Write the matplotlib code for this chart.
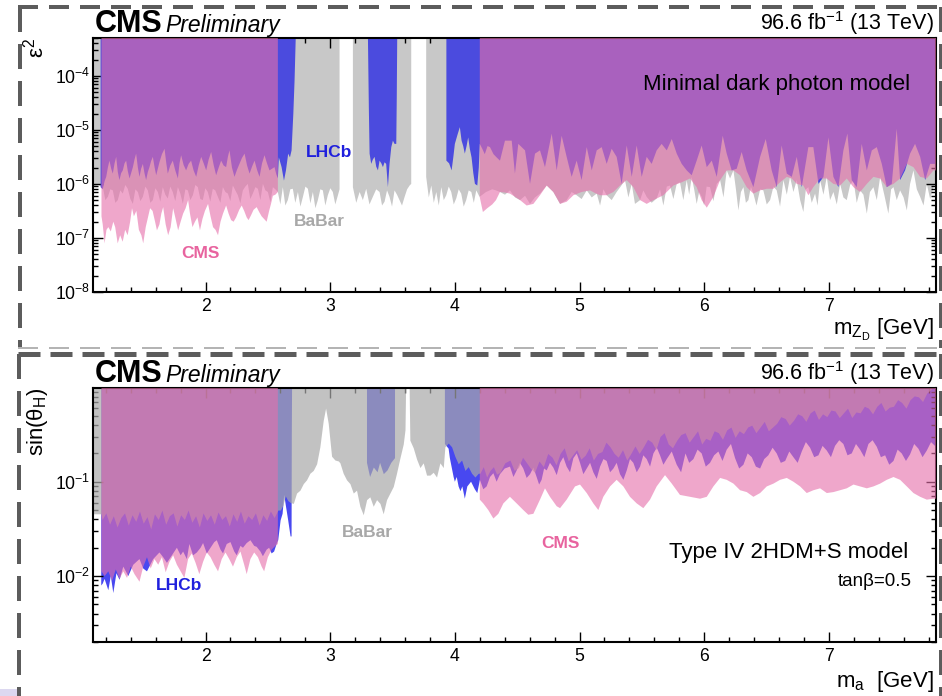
import numpy as np
import matplotlib
matplotlib.use("Agg")
import matplotlib.pyplot as plt
from matplotlib.lines import Line2D
from matplotlib.patches import Rectangle
from matplotlib.ticker import MultipleLocator, LogLocator, NullFormatter

plt.rcParams.update({
    "font.family": ["Liberation Sans", "DejaVu Sans"],
    "mathtext.fontset": "custom",
    "mathtext.rm": "Liberation Sans",
    "mathtext.it": "Liberation Sans:italic",
    "mathtext.bf": "Liberation Sans:bold",
    "lines.scale_dashes": False,
})

# ---------------------------------------------------------------------------
# Exclusion limits, given as (mass [GeV], log10 of the limit); None splits
# a curve into separate mass windows.
# ---------------------------------------------------------------------------

# Minimal dark photon model: limits on epsilon^2
top_babar = [
    (1.097, -6.05), (1.140, -6.02), (1.176, -6.06), (1.196, -6.30), (1.216, -6.24), (1.236, -6.10),
    (1.256, -6.12), (1.276, -6.35), (1.296, -6.30), (1.316, -6.12), (1.336, -6.18), (1.356, -6.02),
    (1.376, -6.09), (1.397, -6.28), (1.417, -6.37), (1.437, -6.10), (1.457, -6.15), (1.477, -6.32),
    (1.497, -6.24), (1.517, -6.05), (1.537, -6.12), (1.557, -6.35), (1.577, -6.30), (1.597, -6.08),
    (1.617, -6.15), (1.637, -6.33), (1.657, -6.06), (1.677, -6.20), (1.697, -6.27), (1.717, -6.05),
    (1.737, -6.15), (1.757, -6.32), (1.778, -6.06), (1.798, -6.18), (1.818, -6.37), (1.838, -6.10),
    (1.858, -6.12), (1.878, -6.30), (1.898, -6.21), (1.918, -6.02), (1.938, -6.06), (1.958, -6.28),
    (1.978, -6.30), (1.998, -6.08), (2.018, -6.15), (2.038, -6.33), (2.058, -6.09), (2.078, -6.12),
    (2.099, -6.24), (2.119, -6.35), (2.139, -6.06), (2.159, -6.15), (2.179, -6.18), (2.199, -6.32),
    (2.219, -6.03), (2.239, -6.12), (2.259, -6.21), (2.279, -6.36), (2.299, -6.12), (2.319, -6.05),
    (2.339, -6.00), (2.359, -6.28), (2.379, -6.18), (2.400, -6.06), (2.420, -6.09), (2.440, -6.30),
    (2.460, -6.00), (2.480, -6.12), (2.500, -6.15), (2.520, -6.34), (2.540, -6.06), (2.560, -6.10),
    (2.580, -6.15), (2.600, -6.38), (2.620, -6.06), (2.640, -6.40), (2.660, -6.30), (2.680, -6.10),
    (2.700, -6.09), (2.720, -6.35), (2.741, -6.15), (2.761, -6.42), (2.781, -6.24), (2.801, -6.05),
    (2.821, -6.09), (2.841, -6.36), (2.861, -6.15), (2.881, -6.45), (2.901, -6.30), (2.921, -6.10),
    (2.941, -6.12), (2.961, -6.40), (2.981, -6.21), (3.001, -6.08), (3.021, -6.15), (3.041, -6.38),
    (3.062, -6.21), (3.075, -6.10),
    None,
    (3.182, -6.06), (3.209, -6.35), (3.236, -6.15), (3.262, -6.30), (3.289, -6.09), (3.315, -6.38),
    (3.342, -6.24), (3.369, -6.10), (3.396, -6.15), (3.416, -6.40), (3.436, -6.33), (3.456, -6.12),
    (3.476, -6.24), (3.496, -6.42), (3.516, -6.12), (3.536, -6.20), (3.556, -6.30), (3.576, -6.40),
    (3.597, -6.24), (3.617, -6.10), (3.637, -6.03), (3.650, -6.00),
    None,
    (3.770, -5.87), (3.791, -6.25), (3.811, -6.03), (3.831, -6.35), (3.851, -6.15), (3.871, -6.40),
    (3.891, -6.06), (3.911, -6.30), (3.931, -6.21), (3.951, -6.05), (3.971, -6.15), (3.991, -6.38),
    (4.011, -6.27), (4.031, -6.10), (4.051, -6.18), (4.071, -6.42), (4.091, -6.30), (4.111, -6.12),
    (4.132, -6.15), (4.152, -6.35), (4.172, -6.12), (4.198, -6.24), (4.250, -6.15), (4.300, -6.10),
    (4.330, -6.12), (4.362, -6.15), (4.402, -6.20), (4.442, -6.12), (4.483, -6.25), (4.523, -6.30),
    (4.563, -6.22), (4.603, -6.37), (4.643, -6.25), (4.683, -6.18), (4.737, -6.03), (4.790, -6.15),
    (4.844, -6.37), (4.897, -6.30), (4.937, -6.15), (4.977, -6.21), (5.017, -6.28), (5.058, -6.12),
    (5.098, -6.25), (5.138, -6.18), (5.165, -6.40), (5.192, -6.10), (5.218, -6.21), (5.258, -6.30),
    (5.298, -6.15), (5.330, -6.05), (5.365, -5.93), (5.392, -6.25), (5.419, -6.00), (5.445, -6.37),
    (5.486, -6.30), (5.512, -6.12), (5.539, -6.24), (5.579, -6.35), (5.619, -6.27), (5.646, -6.10),
    (5.673, -6.40), (5.700, -6.05), (5.726, -6.03), (5.753, -6.28), (5.780, -6.00), (5.806, -5.97),
    (5.833, -6.30), (5.860, -5.93), (5.880, -6.20), (5.900, -5.87), (5.920, -6.10), (5.940, -6.37),
    (5.960, -6.15), (5.980, -6.24), (6.000, -6.40), (6.020, -6.05), (6.047, -6.06), (6.074, -6.32),
    (6.101, -6.00), (6.128, -5.93), (6.155, -6.25), (6.181, -5.75), (6.208, -5.90), (6.235, -5.75),
    (6.255, -6.10), (6.275, -6.49), (6.295, -6.15), (6.315, -6.06), (6.335, -6.35), (6.355, -6.30),
    (6.375, -6.05), (6.395, -6.18), (6.420, -6.40), (6.449, -6.10), (6.475, -6.12), (6.502, -6.38),
    (6.529, -6.30), (6.556, -6.05), (6.582, -6.12), (6.609, -6.42), (6.636, -5.93), (6.663, -6.20),
    (6.689, -5.87), (6.716, -6.15), (6.743, -5.93), (6.770, -6.30), (6.796, -6.52), (6.816, -6.10),
    (6.836, -6.06), (6.863, -6.35), (6.890, -6.18), (6.910, -6.40), (6.930, -5.93), (6.957, -6.20),
    (6.984, -5.87), (7.010, -6.30), (7.037, -6.15), (7.064, -6.38), (7.091, -6.00), (7.117, -6.25),
    (7.144, -6.30), (7.171, -6.02), (7.198, -5.93), (7.224, -6.35), (7.251, -6.12), (7.278, -6.20),
    (7.305, -6.55), (7.330, -6.15), (7.358, -6.06), (7.385, -6.30), (7.412, -5.87), (7.445, -6.20),
    (7.478, -6.55), (7.500, -6.10), (7.519, -6.06), (7.545, -6.30), (7.572, -6.12), (7.600, -6.25),
    (7.626, -6.49), (7.652, -6.00), (7.679, -5.75), (7.706, -6.10), (7.733, -6.24), (7.760, -6.40),
    (7.786, -6.00), (7.813, -6.28), (7.840, -6.06), (7.860, -6.00),
]

top_lhcb = [
    (1.158, -6.06), (1.175, -6.10), (1.190, -5.95), (1.203, -5.87), (1.216, -5.70), (1.229, -5.57),
    (1.243, -5.72), (1.256, -5.81), (1.270, -5.62), (1.283, -5.50), (1.296, -5.78), (1.309, -5.93),
    (1.323, -5.80), (1.336, -5.75), (1.350, -5.62), (1.363, -5.57), (1.376, -5.76), (1.390, -5.90),
    (1.403, -5.80), (1.417, -5.69), (1.430, -5.55), (1.443, -5.44), (1.457, -5.70), (1.470, -5.87),
    (1.483, -5.72), (1.497, -5.63), (1.510, -5.80), (1.523, -5.93), (1.537, -5.78), (1.550, -5.69),
    (1.563, -5.58), (1.577, -5.50), (1.590, -5.68), (1.604, -5.84), (1.617, -5.72), (1.630, -5.60),
    (1.650, -5.45), (1.671, -5.35), (1.684, -5.60), (1.697, -5.81), (1.717, -5.66), (1.737, -5.57),
    (1.757, -5.75), (1.778, -5.90), (1.791, -5.62), (1.804, -5.47), (1.824, -5.65), (1.844, -5.75),
    (1.864, -5.63), (1.884, -5.57), (1.904, -5.75), (1.925, -5.87), (1.945, -5.66), (1.965, -5.50),
    (1.985, -5.62), (2.005, -5.75), (2.025, -5.55), (2.045, -5.41), (2.065, -5.65), (2.085, -5.84),
    (2.105, -5.70), (2.125, -5.57), (2.145, -5.66), (2.165, -5.69), (2.179, -5.50), (2.192, -5.38),
    (2.212, -5.70), (2.232, -5.87), (2.252, -5.74), (2.272, -5.63), (2.292, -5.52), (2.313, -5.44),
    (2.333, -5.66), (2.353, -5.81), (2.373, -5.68), (2.393, -5.57), (2.413, -5.74), (2.433, -5.87),
    (2.453, -5.62), (2.473, -5.47), (2.493, -5.62), (2.513, -5.75), (2.533, -5.72), (2.553, -5.69),
    (2.567, -5.82), (2.580, -5.90), (2.588, -5.51), (2.610, -5.69), (2.629, -5.94), (2.645, -5.75),
    (2.663, -5.44), (2.677, -5.51), (2.690, -5.38), (2.704, -4.71), (2.714, -4.09), (2.725, -3.17),
    None,
    (3.302, -3.17), (3.310, -4.60), (3.316, -5.44), (3.329, -5.63), (3.342, -5.55), (3.356, -5.50),
    (3.369, -5.68), (3.383, -5.75), (3.396, -5.57), (3.410, -5.62), (3.423, -5.69), (3.436, -5.60),
    (3.449, -5.63), (3.463, -6.06), (3.476, -5.63), (3.490, -5.32), (3.503, -5.20), (3.516, -5.26),
    (3.530, -5.26), (3.534, -4.40), (3.538, -3.17),
    None,
    (3.932, -5.57), (3.954, -5.62), (3.974, -5.75), (3.988, -5.50), (4.000, -5.26), (4.020, -5.10),
    (4.040, -4.95), (4.054, -5.20), (4.067, -5.30), (4.080, -5.44), (4.094, -5.30), (4.107, -5.14),
    (4.120, -5.35), (4.134, -5.51), (4.148, -5.80), (4.161, -6.00), (4.180, -6.03), (4.192, -5.70),
    (4.200, -5.26), (4.220, -5.35), (4.240, -5.45), (4.262, -5.30), (4.282, -5.32), (4.310, -5.45),
    (4.335, -5.51), (4.362, -5.57), (4.402, -5.20), (4.456, -5.20), (4.482, -5.81), (4.509, -5.26),
    (4.563, -5.38), (4.603, -6.00), (4.643, -5.44), (4.683, -5.38), (4.723, -5.69), (4.777, -5.07),
    (4.817, -5.75), (4.857, -5.11), (4.897, -5.50), (4.937, -5.87), (4.977, -5.57), (5.017, -5.93),
    (5.058, -5.32), (5.098, -5.75), (5.138, -5.38), (5.178, -5.32), (5.218, -5.63), (5.258, -5.35),
    (5.298, -5.50), (5.338, -6.00), (5.379, -5.29), (5.419, -5.87), (5.459, -5.29), (5.499, -5.87),
    (5.539, -5.50), (5.579, -5.63), (5.619, -5.38), (5.659, -5.26), (5.700, -5.38), (5.740, -5.17),
    (5.780, -5.44), (5.820, -5.63), (5.860, -5.75), (5.900, -5.84), (5.940, -5.57), (5.980, -5.29),
    (6.021, -5.69), (6.061, -5.57), (6.101, -5.87), (6.149, -5.11), (6.181, -5.44), (6.221, -5.75),
    (6.261, -5.72), (6.301, -5.41), (6.341, -5.75), (6.395, -6.06), (6.449, -5.50), (6.494, -5.17),
    (6.542, -5.75), (6.582, -6.06), (6.622, -5.29), (6.663, -5.81), (6.703, -5.87), (6.743, -5.50),
    (6.783, -6.06), (6.836, -5.32), (6.876, -5.32), (6.917, -6.00), (6.957, -5.87), (6.997, -5.14),
    (7.037, -5.87), (7.077, -6.06), (7.117, -5.38), (7.149, -5.07), (7.184, -5.93), (7.224, -6.06),
    (7.264, -5.26), (7.305, -5.75), (7.345, -5.38), (7.385, -5.32), (7.425, -5.63), (7.465, -6.06),
    (7.505, -6.00), (7.545, -4.98), (7.572, -5.93), (7.612, -5.75), (7.652, -5.44), (7.692, -5.26),
    (7.733, -5.50), (7.773, -5.93), (7.813, -5.63), (7.860, -5.63),
]

top_cms = [
    (1.165, -6.60), (1.175, -6.75), (1.190, -7.10), (1.205, -6.85), (1.220, -6.80), (1.240, -6.88),
    (1.260, -6.70), (1.275, -6.80), (1.295, -7.10), (1.315, -6.95), (1.335, -7.07), (1.355, -6.85),
    (1.375, -6.95), (1.395, -6.70), (1.410, -6.45), (1.425, -6.60), (1.445, -6.50), (1.465, -6.85),
    (1.485, -6.95), (1.500, -7.10), (1.520, -6.80), (1.540, -6.60), (1.555, -6.45), (1.575, -6.50),
    (1.595, -6.70), (1.610, -6.86), (1.630, -6.75), (1.645, -6.55), (1.660, -6.43), (1.680, -6.75),
    (1.700, -6.95), (1.720, -6.80), (1.740, -6.45), (1.760, -6.65), (1.780, -6.86), (1.800, -6.70),
    (1.820, -6.55), (1.840, -6.45), (1.860, -6.30), (1.875, -6.55), (1.895, -6.80), (1.915, -6.70),
    (1.935, -6.62), (1.955, -6.86), (1.975, -6.65), (1.995, -6.50), (2.020, -6.37), (2.040, -6.60),
    (2.060, -6.80), (2.080, -6.85), (2.100, -6.95), (2.120, -6.70), (2.140, -6.55), (2.165, -6.40),
    (2.185, -6.55), (2.205, -6.67), (2.225, -6.70), (2.245, -6.62), (2.270, -6.48), (2.290, -6.40),
    (2.310, -6.50), (2.330, -6.62), (2.345, -6.67), (2.365, -6.58), (2.385, -6.48), (2.410, -6.43),
    (2.430, -6.52), (2.450, -6.60), (2.470, -6.65), (2.490, -6.70), (2.510, -6.50), (2.525, -6.37),
    (2.540, -6.22), (2.560, -6.20), (2.580, -6.15),
    None,
    (4.200, -6.25), (4.225, -6.52), (4.260, -6.45), (4.300, -6.38), (4.330, -6.30), (4.362, -6.15),
    (4.402, -6.16), (4.442, -6.18), (4.483, -6.24), (4.523, -6.30), (4.576, -6.40), (4.630, -6.37),
    (4.683, -6.21), (4.737, -6.03), (4.790, -6.15), (4.844, -6.37), (4.897, -6.33), (4.951, -6.21),
    (5.017, -6.15), (5.084, -6.12), (5.125, -6.17), (5.165, -6.21), (5.218, -6.21), (5.272, -6.15),
    (5.325, -6.03), (5.379, -5.93), (5.432, -6.06), (5.486, -6.30), (5.539, -6.37), (5.593, -6.30),
    (5.673, -6.21), (5.753, -6.03), (5.820, -5.97), (5.887, -5.90), (5.940, -6.06), (5.980, -6.30),
    (6.021, -6.44), (6.074, -6.24), (6.128, -5.93), (6.181, -5.75), (6.235, -5.75), (6.288, -5.84),
    (6.341, -6.06), (6.395, -6.18), (6.449, -6.12), (6.502, -6.09), (6.556, -6.09), (6.609, -5.97),
    (6.663, -5.87), (6.703, -5.90), (6.743, -6.00), (6.796, -6.03), (6.836, -6.21), (6.876, -6.06),
    (6.930, -5.90), (6.984, -5.90), (7.037, -6.00), (7.091, -6.03), (7.144, -5.90), (7.198, -6.06),
    (7.251, -6.15), (7.305, -6.00), (7.358, -5.87), (7.412, -5.90), (7.465, -6.06), (7.519, -6.00),
    (7.572, -5.90), (7.626, -5.63), (7.679, -5.69), (7.733, -5.87), (7.786, -5.90), (7.840, -5.75),
    (7.860, -5.75),
]

# Type IV 2HDM+S model (tan beta = 0.5): limits on sin(theta_H)
bot_babar = [
    (1.097, -1.34), (1.160, -1.34), (1.170, -1.40), (1.200, -1.33), (1.230, -1.45), (1.260, -1.36),
    (1.290, -1.48), (1.320, -1.38), (1.350, -1.33), (1.380, -1.46), (1.410, -1.35), (1.440, -1.42),
    (1.470, -1.31), (1.500, -1.44), (1.530, -1.37), (1.560, -1.50), (1.590, -1.34), (1.620, -1.40),
    (1.650, -1.30), (1.680, -1.45), (1.710, -1.36), (1.740, -1.33), (1.770, -1.47), (1.800, -1.35),
    (1.830, -1.40), (1.860, -1.30), (1.890, -1.43), (1.920, -1.36), (1.950, -1.48), (1.980, -1.33),
    (2.010, -1.41), (2.040, -1.35), (2.070, -1.45), (2.100, -1.32), (2.130, -1.40), (2.160, -1.36),
    (2.190, -1.47), (2.220, -1.34), (2.250, -1.42), (2.280, -1.31), (2.310, -1.44), (2.340, -1.36),
    (2.370, -1.40), (2.400, -1.33), (2.430, -1.46), (2.460, -1.35), (2.490, -1.41), (2.520, -1.31),
    (2.550, -1.38), (2.580, -1.30), (2.600, -1.30), (2.620, -1.25), (2.640, -1.15), (2.660, -1.20),
    (2.680, -1.22), (2.704, -1.23), (2.730, -1.12), (2.757, -1.09), (2.784, -1.02), (2.810, -0.98),
    (2.837, -0.91), (2.864, -0.88), (2.891, -0.81), (2.917, -0.63), (2.944, -0.35), (2.963, -0.22),
    (2.984, -0.38), (3.011, -0.73), (3.038, -0.77), (3.065, -0.78), (3.078, -0.80), (3.104, -0.91),
    (3.131, -0.98), (3.158, -1.02), (3.185, -1.12), (3.211, -1.09), (3.238, -1.26), (3.265, -1.35),
    (3.292, -1.19), (3.318, -1.16), (3.345, -1.26), (3.372, -1.19), (3.399, -1.23), (3.425, -1.34),
    (3.452, -1.19), (3.479, -1.12), (3.506, -1.05), (3.532, -0.91), (3.559, -0.75), (3.586, -0.60),
    (3.600, -0.45), (3.606, 0.10), (3.632, 0.10), (3.639, -0.56), (3.666, -0.64), (3.693, -0.76),
    (3.720, -0.85), (3.746, -0.80), (3.773, -0.93), (3.800, -0.93), (3.826, -0.90), (3.853, -0.95),
    (3.880, -0.80), (3.907, -0.85), (3.920, -0.63), (3.947, -0.59), (3.974, -0.63), (4.000, -0.73),
    (4.027, -0.81), (4.054, -0.77), (4.081, -0.88), (4.107, -0.84), (4.134, -0.91), (4.161, -0.95),
    (4.188, -0.91), (4.201, -0.91), (4.228, -0.84), (4.255, -0.95), (4.282, -0.88), (4.309, -0.84),
    (4.335, -0.92), (4.362, -0.90), (4.400, -0.80), (4.442, -0.77), (4.476, -0.88), (4.510, -0.85),
    (4.543, -0.74), (4.576, -0.80), (4.608, -0.86), (4.640, -0.90), (4.675, -0.78), (4.710, -0.84),
    (4.745, -0.70), (4.780, -0.74), (4.812, -0.82), (4.844, -0.70), (4.877, -0.64), (4.910, -0.78),
    (4.943, -0.72), (4.977, -0.66), (5.011, -0.76), (5.045, -0.72), (5.078, -0.64), (5.111, -0.77),
    (5.145, -0.70), (5.180, -0.68), (5.212, -0.58), (5.245, -0.63), (5.278, -0.70), (5.310, -0.74),
    (5.345, -0.66), (5.379, -0.77), (5.412, -0.70), (5.445, -0.62), (5.478, -0.70), (5.512, -0.63),
    (5.546, -0.55), (5.580, -0.58), (5.613, -0.66), (5.646, -0.52), (5.679, -0.48), (5.712, -0.60),
    (5.746, -0.64), (5.780, -0.56), (5.813, -0.50), (5.847, -0.48), (5.880, -0.58), (5.914, -0.52),
    (5.947, -0.46), (5.980, -0.60), (6.013, -0.54), (6.047, -0.56), (6.080, -0.46), (6.114, -0.48),
    (6.147, -0.55), (6.181, -0.45), (6.215, -0.42), (6.248, -0.53), (6.281, -0.46), (6.315, -0.49),
    (6.349, -0.42), (6.382, -0.40), (6.415, -0.48), (6.449, -0.42), (6.482, -0.36), (6.515, -0.46),
    (6.549, -0.42), (6.582, -0.38), (6.615, -0.31), (6.650, -0.33), (6.683, -0.40), (6.716, -0.35),
    (6.750, -0.28), (6.783, -0.30), (6.816, -0.36), (6.850, -0.27), (6.883, -0.24), (6.917, -0.34),
    (6.950, -0.28), (6.984, -0.31), (7.017, -0.24), (7.050, -0.25), (7.084, -0.32), (7.117, -0.27),
    (7.150, -0.22), (7.184, -0.32), (7.218, -0.26), (7.251, -0.27), (7.285, -0.20), (7.318, -0.22),
    (7.351, -0.28), (7.385, -0.20), (7.418, -0.16), (7.452, -0.25), (7.485, -0.21), (7.519, -0.20),
    (7.552, -0.13), (7.585, -0.16), (7.619, -0.22), (7.652, -0.13), (7.685, -0.09), (7.719, -0.10),
    (7.752, -0.15), (7.786, -0.06), (7.820, -0.02), (7.860, 0.01),
]

bot_lhcb = [
    (1.163, -2.10), (1.175, -2.08), (1.190, -2.03), (1.220, -2.15), (1.240, -2.00), (1.260, -2.18),
    (1.285, -1.97), (1.310, -2.04), (1.340, -1.90), (1.380, -2.00), (1.420, -1.88), (1.470, -1.82),
    (1.500, -1.92), (1.530, -1.95), (1.580, -1.82), (1.630, -1.75), (1.660, -1.80), (1.690, -1.86),
    (1.740, -1.76), (1.770, -1.70), (1.800, -1.78), (1.820, -1.74), (1.850, -1.82), (1.870, -1.66),
    (1.900, -1.78), (1.930, -1.75), (1.960, -1.70), (1.980, -1.65), (2.010, -1.76), (2.040, -1.70),
    (2.070, -1.64), (2.090, -1.62), (2.120, -1.72), (2.140, -1.76), (2.170, -1.66), (2.200, -1.64),
    (2.230, -1.74), (2.250, -1.78), (2.280, -1.68), (2.300, -1.70), (2.330, -1.65), (2.360, -1.62),
    (2.390, -1.68), (2.410, -1.69), (2.440, -1.74), (2.460, -1.79), (2.490, -1.72), (2.510, -1.70),
    (2.530, -1.76), (2.550, -1.74), (2.570, -1.66), (2.583, -1.62), (2.602, -1.41), (2.618, -1.34),
    (2.631, -1.14), (2.645, -1.26), (2.663, -1.41), (2.682, -1.58), (2.690, -1.58), (2.692, -0.50),
    (2.695, 0.20),
    None,
    (3.295, -0.80), (3.320, -0.95), (3.350, -0.85), (3.380, -0.90), (3.400, -0.80), (3.430, -0.92),
    (3.460, -0.88), (3.490, -0.80), (3.520, -0.75),
    None,
    (3.920, -0.60), (3.950, -0.65), (3.960, -0.75), (3.975, -0.85), (3.990, -0.95), (4.000, -1.00),
    (4.015, -0.95), (4.030, -1.05), (4.045, -1.10), (4.060, -1.05), (4.080, -1.18), (4.100, -1.05),
    (4.130, -1.00), (4.160, -1.08), (4.180, -1.12), (4.201, -0.98), (4.228, -1.08), (4.255, -1.05),
    (4.282, -0.95), (4.309, -0.91), (4.335, -1.00), (4.362, -0.92), (4.400, -0.86), (4.442, -0.84),
    (4.470, -0.95), (4.496, -0.88), (4.522, -0.80), (4.549, -0.86), (4.576, -0.96), (4.603, -0.92),
    (4.630, -0.85), (4.656, -0.95), (4.676, -1.03), (4.696, -0.98), (4.716, -0.86), (4.737, -0.88),
    (4.763, -0.80), (4.790, -0.85), (4.817, -0.93), (4.844, -0.80), (4.870, -0.74), (4.897, -0.84),
    (4.924, -0.90), (4.951, -0.75), (4.978, -0.70), (5.004, -0.80), (5.031, -0.92), (5.058, -0.86),
    (5.085, -0.80), (5.111, -0.90), (5.138, -0.97), (5.165, -0.84), (5.192, -0.76), (5.218, -0.78),
    (5.245, -0.90), (5.272, -0.86), (5.298, -0.80), (5.325, -0.92), (5.352, -0.98), (5.379, -0.88),
    (5.405, -0.76), (5.432, -0.80), (5.459, -0.90), (5.486, -0.84), (5.512, -0.72), (5.539, -0.76),
    (5.566, -0.84), (5.593, -0.70), (5.620, -0.64), (5.646, -0.72), (5.673, -0.82), (5.700, -0.76),
    (5.740, -0.68), (5.780, -0.82), (5.815, -0.90), (5.850, -0.70), (5.880, -0.80), (5.914, -0.76),
    (5.947, -0.66), (5.980, -0.70), (6.013, -0.84), (6.047, -0.80), (6.080, -0.72), (6.114, -0.68),
    (6.147, -0.78), (6.181, -0.66), (6.215, -0.60), (6.248, -0.75), (6.281, -0.86), (6.315, -0.82),
    (6.349, -0.70), (6.382, -0.74), (6.415, -0.84), (6.449, -0.86), (6.482, -0.76), (6.515, -0.72),
    (6.549, -0.64), (6.582, -0.70), (6.615, -0.80), (6.650, -0.78), (6.683, -0.68), (6.716, -0.74),
    (6.750, -0.80), (6.783, -0.68), (6.816, -0.58), (6.850, -0.64), (6.883, -0.74), (6.917, -0.72),
    (6.950, -0.62), (6.984, -0.67), (7.017, -0.74), (7.050, -0.62), (7.084, -0.56), (7.117, -0.60),
    (7.150, -0.72), (7.184, -0.70), (7.218, -0.60), (7.251, -0.66), (7.285, -0.74), (7.318, -0.60),
    (7.351, -0.56), (7.385, -0.63), (7.418, -0.74), (7.452, -0.72), (7.485, -0.82), (7.519, -0.78),
    (7.552, -0.66), (7.585, -0.70), (7.619, -0.78), (7.652, -0.71), (7.685, -0.60), (7.719, -0.65),
    (7.752, -0.74), (7.786, -0.67), (7.820, -0.58), (7.860, -0.63),
]

bot_cms = [
    (1.165, -1.95), (1.190, -2.00), (1.220, -1.95), (1.250, -2.05), (1.280, -1.93), (1.310, -2.03),
    (1.340, -1.95), (1.370, -2.02), (1.400, -1.90), (1.430, -1.98), (1.470, -2.06), (1.500, -1.90),
    (1.530, -1.80), (1.560, -1.92), (1.590, -1.82), (1.620, -1.88), (1.650, -1.80), (1.680, -1.96),
    (1.710, -1.85), (1.740, -1.78), (1.770, -1.88), (1.800, -1.95), (1.830, -2.02), (1.860, -1.82),
    (1.890, -1.76), (1.920, -1.86), (1.950, -1.98), (1.980, -1.85), (2.010, -1.75), (2.040, -1.80),
    (2.070, -1.88), (2.100, -1.95), (2.130, -1.82), (2.160, -1.75), (2.190, -1.82), (2.220, -1.90),
    (2.250, -1.80), (2.280, -1.74), (2.310, -1.88), (2.330, -1.98), (2.360, -1.82), (2.390, -1.75),
    (2.420, -1.80), (2.450, -1.90), (2.470, -1.95), (2.500, -1.80), (2.530, -1.72), (2.560, -1.68),
    (2.580, -1.66),
    None,
    (4.200, -1.19), (4.228, -1.23), (4.268, -1.30), (4.309, -1.39), (4.349, -1.34), (4.389, -1.23),
    (4.442, -1.16), (4.496, -1.23), (4.549, -1.30), (4.589, -1.35), (4.630, -1.34), (4.683, -1.19),
    (4.723, -1.07), (4.763, -1.16), (4.817, -1.26), (4.844, -1.28), (4.897, -1.19), (4.964, -1.05),
    (5.004, -1.03), (5.058, -1.12), (5.111, -1.23), (5.151, -1.30), (5.191, -1.16), (5.245, -1.05),
    (5.298, -0.98), (5.352, -1.05), (5.405, -1.16), (5.459, -1.23), (5.512, -1.28), (5.566, -1.19),
    (5.619, -1.05), (5.686, -0.93), (5.740, -1.02), (5.806, -1.14), (5.887, -1.16), (5.967, -1.18),
    (6.021, -1.16), (6.074, -1.05), (6.128, -0.96), (6.181, -0.98), (6.235, -1.02), (6.288, -1.09),
    (6.342, -1.11), (6.395, -1.16), (6.449, -1.12), (6.502, -1.05), (6.556, -1.02), (6.609, -0.98),
    (6.663, -0.96), (6.716, -1.00), (6.770, -1.05), (6.823, -1.12), (6.877, -1.09), (6.930, -1.07),
    (6.984, -1.12), (7.037, -1.11), (7.091, -1.09), (7.144, -1.07), (7.198, -1.03), (7.251, -1.05),
    (7.305, -1.07), (7.358, -1.05), (7.412, -1.02), (7.465, -0.98), (7.519, -0.95), (7.572, -0.98),
    (7.626, -1.05), (7.679, -1.12), (7.733, -1.16), (7.786, -1.19), (7.840, -1.18), (7.866, -1.18),
]

# Colours
GREY = "#c8c8c8"
GREY_DARK = "#a9a9a9"
BLUE_TOP = "#4b4bde"
BLUE_BOT = "#4848f0"
PINK = "#e670ab"
LABEL_CMS = "#e8649f"
LABEL_LHCB = "#2020dd"
LABEL_BABAR = "#a8a8a8"

W, H = 942, 696
fig = plt.figure(figsize=(W / 100, H / 100), dpi=100)
fig.patch.set_facecolor("white")


def fx(px):
    return px / W


def fy(py):
    return 1 - py / H


def split(curve):
    mass = np.array([p[0] if p else np.nan for p in curve], dtype=float)
    lim = np.array([10.0 ** p[1] if p else np.nan for p in curve], dtype=float)
    return mass, lim


def excluded(ax, curve, ceiling, **kw):
    mass, lim = split(curve)
    ax.fill_between(mass, lim, ceiling, linewidth=0, **kw)


def style_axes(ax, ylim):
    ax.set_yscale("log")
    ax.set_xlim(1.097, 7.86)
    ax.set_ylim(*ylim)
    ax.xaxis.set_major_locator(MultipleLocator(1))
    ax.xaxis.set_minor_locator(MultipleLocator(0.2))
    ax.yaxis.set_major_locator(LogLocator(base=10, numticks=20))
    ax.yaxis.set_minor_locator(LogLocator(base=10, subs=np.arange(2, 10), numticks=50))
    ax.yaxis.set_minor_formatter(NullFormatter())
    ax.tick_params(which="both", direction="in", top=True, right=True, width=1.0, labelsize=12.7)
    ax.tick_params(which="major", length=7.5)
    ax.tick_params(which="minor", length=3.8)
    ax.tick_params(axis="x", pad=4)
    ax.tick_params(axis="y", pad=2)
    for s in ax.spines.values():
        s.set_linewidth(1.5)


# ---------------------------- upper panel ----------------------------------
ax_top = fig.add_axes([fx(93), fy(292), (936 - 93) / W, (292 - 38) / H])
excluded(ax_top, top_babar, 1e-2, color=GREY, zorder=1)
excluded(ax_top, top_lhcb, 1e-2, color=BLUE_TOP, zorder=2)
excluded(ax_top, top_cms, 1e-2, color=PINK, alpha=0.61, zorder=3)
style_axes(ax_top, (1e-8, 5e-4))

ax_top.text(2.989, 10 ** -5.42, "LHCb", color=LABEL_LHCB, fontsize=12.5, fontweight="bold",
            ha="center", va="center", zorder=5)
ax_top.text(2.913, 10 ** -6.70, "BaBar", color=LABEL_BABAR, fontsize=12.5, fontweight="bold",
            ha="center", va="center", zorder=5)
ax_top.text(1.961, 10 ** -7.29, "CMS", color=LABEL_CMS, fontsize=12.5, fontweight="bold",
            ha="center", va="center", zorder=5)
ax_top.text(7.656, 10 ** -4.17, "Minimal dark photon model", fontsize=16,
            ha="right", va="center", zorder=5)

# ---------------------------- lower panel ----------------------------------
ax_bot = fig.add_axes([fx(93), fy(642), (936 - 93) / W, (642 - 388) / H])
excluded(ax_bot, bot_lhcb, 10, color=BLUE_BOT, zorder=1)
excluded(ax_bot, bot_babar, 10, color=GREY_DARK, alpha=0.70, zorder=2)
excluded(ax_bot, bot_cms, 10, color=PINK, alpha=0.61, zorder=3)
style_axes(ax_bot, (2e-3, 0.985))

ax_bot.text(3.302, 10 ** -1.533, "BaBar", color=LABEL_BABAR, fontsize=12.5, fontweight="bold",
            ha="center", va="center", zorder=5)
ax_bot.text(1.786, 10 ** -2.096, "LHCb", color=LABEL_LHCB, fontsize=12.5, fontweight="bold",
            ha="center", va="center", zorder=5)
ax_bot.text(4.851, 10 ** -1.65, "CMS", color=LABEL_CMS, fontsize=12.5, fontweight="bold",
            ha="center", va="center", zorder=5)
ax_bot.text(7.634, 10 ** -1.745, "Type IV 2HDM+S model", fontsize=16,
            ha="right", va="center", zorder=5)
ax_bot.text(7.666, 10 ** -2.053, "tanβ=0.5", fontsize=13.5,
            ha="right", va="center", zorder=5)

# ---------------------------- panel headers and titles ---------------------
for top_px in (38, 388):
    fig.text(fx(95), fy(top_px - 6), "CMS", fontsize=22, fontweight="bold",
             ha="left", va="baseline")
    fig.text(fx(165), fy(top_px - 6), "Preliminary", fontsize=16.5, style="italic",
             ha="left", va="baseline")
    fig.text(fx(934), fy(top_px - 8), r"96.6 fb$^{-1}$ (13 TeV)", fontsize=15.5,
             ha="right", va="baseline")

fig.text(fx(36), fy(38), r"$\mathregular{ε^{2}}$", fontsize=16, rotation=90,
         ha="center", va="top")
fig.text(fx(37), fy(388), r"$\mathregular{sin(θ_{H})}$", fontsize=16, rotation=90,
         ha="center", va="top")
fig.text(fx(934), fy(335), r"$\mathregular{m_{Z_{D}}}$ [GeV]", fontsize=16,
         ha="right", va="baseline")
fig.text(fx(934), fy(687), r"$\mathregular{m_{a}}$  [GeV]", fontsize=16,
         ha="right", va="baseline")

# ---------------------------- dashed frames --------------------------------
DARK = "#5c5c5c"
LIGHT = "#b4b4b4"


def dashed(xs, ys, color, lw_px, dash_px, gap_px):
    fig.add_artist(Line2D([fx(x) for x in xs], [fy(y) for y in ys],
                          transform=fig.transFigure, color=color,
                          linewidth=lw_px * 0.72,
                          linestyle=(0, (dash_px * 0.72, gap_px * 0.72)),
                          solid_capstyle="butt", dash_capstyle="butt"))


dashed([18, 942], [7, 7], DARK, 4, 20, 11)
dashed([20, 20], [7, 348], DARK, 4, 25, 12)
dashed([941, 941], [7, 348], DARK, 4, 25, 12)
dashed([18, 942], [348, 348], LIGHT, 2, 20, 11)
dashed([18, 942], [354, 354], DARK, 5, 22, 10)
dashed([19, 19], [354, 696], DARK, 4, 25, 12)
dashed([941, 941], [354, 696], DARK, 4, 25, 12)

# small tinted block in the lower-left corner
fig.add_artist(Rectangle((0, 0), 21 / W, 7 / H, transform=fig.transFigure,
                         facecolor="#dcd8f0", edgecolor="none"))

fig.savefig("out.png", dpi=100)
